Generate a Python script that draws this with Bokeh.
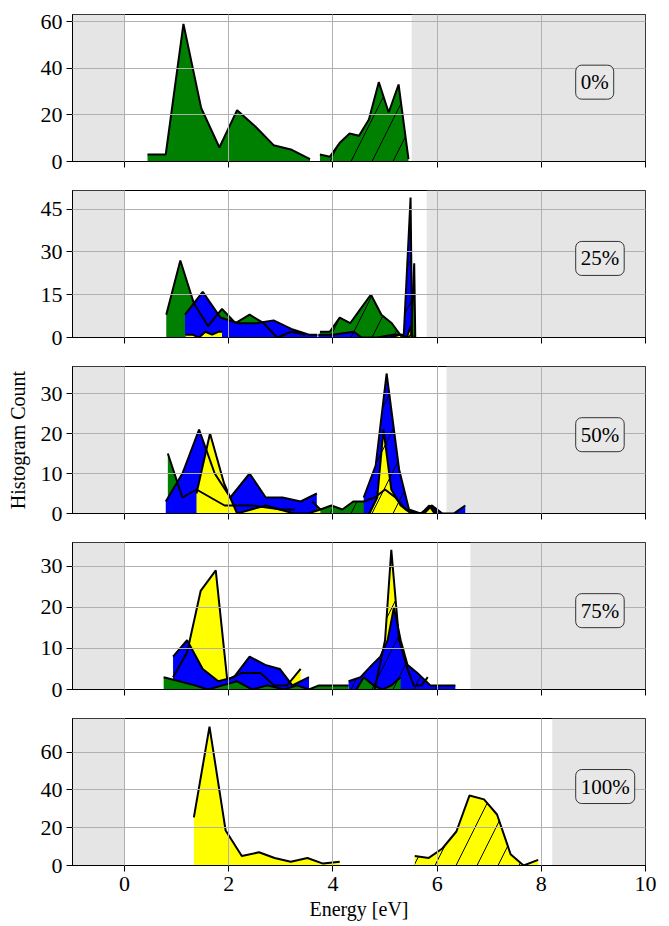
from bokeh.plotting import figure
from bokeh.layouts import column
from bokeh.models import Range1d, FixedTicker, BoxAnnotation, Label
from bokeh.embed import file_html
from bokeh.resources import INLINE

FONT = "Liberation Serif"
GREEN = "#008000"
BLUE = "#0000ff"
YELLOW = "#ffff00"
SHADE = "#e5e5e5"

# ---------------- data ----------------
panel_labels = ["0%", "25%", "50%", "75%", "100%"]
gap_edge = [5.51, 5.80, 6.18, 6.64, 8.21]          # start of right shaded region
y_max = [63.0, 51.5, 36.75, 35.8, 77.8]
y_ticks = [[0, 20, 40, 60], [0, 15, 30, 45], [0, 10, 20, 30], [0, 10, 20, 30], [0, 20, 40, 60]]
label_y = [34.0, 27.7, 19.7, 19.2, 41.8]
x_ticks = [0, 2, 4, 6, 8, 10]

# panel 0%
p0_green_low_e = [0.44, 0.79, 1.13, 1.47, 1.82, 2.16, 2.51, 2.86, 3.21, 3.56]
p0_green_low_n = [3, 3, 59, 23, 6, 22, 15, 7, 5, 1]
p0_green_high_e = [3.75, 3.94, 4.13, 4.32, 4.50, 4.69, 4.88, 5.07, 5.26, 5.45]
p0_green_high_n = [3, 2, 8, 12, 11, 18, 34, 21, 33, 1]

# panel 25%
p1_green_low_e = [0.80, 1.07, 1.33, 1.60, 1.87, 2.13, 2.40, 2.67, 2.93, 3.20, 3.47]
p1_green_low_n = [8, 27, 12, 4, 10, 5, 8, 5, 0, 2, 1]
p1_green_high_e = [3.75, 3.94, 4.13, 4.33, 4.53, 4.73, 4.93, 5.13, 5.33, 5.45, 5.50, 5.56, 5.58]
p1_green_high_n = [2, 2, 7, 5, 10, 15, 8, 5, 0, 0, 1, 26, 0]
p1_blue_low_e = [1.16, 1.50, 1.84, 2.18, 2.52, 2.86, 3.20, 3.54, 3.70]
p1_blue_low_n = [8, 16, 7, 5, 5, 6, 3, 1, 1]
p1_blue_high_e = [3.72, 4.00, 4.40, 4.55, 4.85, 5.15, 5.36, 5.49, 5.52]
p1_blue_high_n = [1, 1, 2, 0, 0, 1, 1, 49, 0]
p1_yellow_low_e = [1.17, 1.30, 1.43, 1.55, 1.68, 1.80, 1.87]
p1_yellow_low_n = [1, 1, 0, 2, 1, 2, 2]
p1_yellow_high_e = [5.10, 5.30, 5.42, 5.49, 5.53]
p1_yellow_high_n = [0, 1, 0, 4, 0]

# panel 50%
p2_green_low_e = [0.83, 1.11, 1.38, 1.65, 1.92, 2.19, 2.46, 2.73, 3.00, 3.27]
p2_green_low_n = [15, 4, 6, 4, 2, 2, 2, 1.5, 1, 1]
p2_green_high_e = [3.60, 3.76, 3.97, 4.18, 4.39, 4.59, 4.80, 5.00, 5.20, 5.40, 5.60, 5.75, 5.90, 6.00]
p2_green_high_n = [3, 1, 2, 1, 3, 3, 4, 6, 4, 1, 0, 0, 2, 0]
p2_blue_low_e = [0.79, 1.11, 1.43, 1.73, 2.03, 2.40, 2.71, 3.03, 3.38, 3.69]
p2_blue_low_n = [3, 10, 21, 10, 4, 10, 4, 4, 3, 5]
p2_blue_high_e = [4.59, 4.82, 5.03, 5.27, 5.46, 5.68, 5.90, 6.10, 6.32, 6.54]
p2_blue_high_n = [4, 12, 35, 11, 1, 0, 2, 0, 0, 2]
p2_yellow_low_e = [1.38, 1.64, 1.91, 2.16, 2.43, 2.71, 2.98, 3.25, 3.52, 3.76]
p2_yellow_low_n = [5, 20, 7.5, 0, 1, 2, 1, 0, 0, 1]
p2_yellow_high_e = [4.70, 4.85, 4.97, 5.12, 5.30, 5.50, 5.70, 5.85, 5.95]
p2_yellow_high_n = [0, 4, 21, 6, 2, 0, 0, 2, 0]

# panel 75%
p3_yellow_low_e = [0.93, 1.20, 1.46, 1.75, 1.97, 2.24, 2.45, 2.61, 2.87, 3.12, 3.38]
p3_yellow_low_n = [3, 9, 24, 29, 2.4, 4, 4, 4, 1, 1, 5]
p3_yellow_high_e = [4.80, 5.00, 5.12, 5.27, 5.43, 5.55, 5.70, 5.82]
p3_yellow_high_n = [0, 12, 34, 12, 5, 1, 1, 3]
p3_blue_low_e = [0.93, 1.20, 1.50, 1.80, 2.10, 2.40, 2.70, 2.98, 3.22, 3.54]
p3_blue_low_n = [8, 12, 5, 2, 3, 8, 6, 5, 1, 3]
p3_blue_high_e = [4.30, 4.53, 4.75, 4.91, 5.05, 5.17, 5.30, 5.43, 5.62, 5.87, 6.10, 6.35]
p3_blue_high_n = [2, 3, 6, 8, 12, 20, 12, 6, 4, 1, 1, 1]
p3_green_low_e = [0.75, 1.05, 1.35, 1.60, 1.88, 2.16, 2.45, 2.74, 3.06, 3.31, 3.54, 3.73, 3.90, 4.10, 4.30]
p3_green_low_n = [3, 2, 1, 0, 1, 2, 0, 1, 0, 1, 0, 1, 1, 1, 1]
p3_green_high_e = [4.45, 4.59, 4.78, 4.95, 5.12, 5.30]
p3_green_high_n = [0, 3, 1, 0, 1, 3]

# panel 100%
p4_yellow_low_e = [1.33, 1.63, 1.94, 2.25, 2.58, 2.88, 3.19, 3.51, 3.81, 4.13]
p4_yellow_low_n = [25.5, 73.5, 18.5, 5, 7, 4, 2, 4, 1, 2]
p4_yellow_high_e = [5.57, 5.84, 6.10, 6.37, 6.62, 6.90, 7.15, 7.41, 7.66, 7.94]
p4_yellow_high_n = [5, 4, 9, 18, 37, 35, 27, 6, 0, 3]

panel_series = [
    [(p0_green_low_e, p0_green_low_n, GREEN, False), (p0_green_high_e, p0_green_high_n, GREEN, True)],
    [(p1_green_low_e, p1_green_low_n, GREEN, False), (p1_green_high_e, p1_green_high_n, GREEN, True),
     (p1_blue_low_e, p1_blue_low_n, BLUE, False), (p1_blue_high_e, p1_blue_high_n, BLUE, True),
     (p1_yellow_low_e, p1_yellow_low_n, YELLOW, False), (p1_yellow_high_e, p1_yellow_high_n, YELLOW, True)],
    [(p2_green_low_e, p2_green_low_n, GREEN, False), (p2_green_high_e, p2_green_high_n, GREEN, True),
     (p2_blue_low_e, p2_blue_low_n, BLUE, False), (p2_blue_high_e, p2_blue_high_n, BLUE, True),
     (p2_yellow_low_e, p2_yellow_low_n, YELLOW, False), (p2_yellow_high_e, p2_yellow_high_n, YELLOW, True)],
    [(p3_yellow_low_e, p3_yellow_low_n, YELLOW, False), (p3_yellow_high_e, p3_yellow_high_n, YELLOW, True),
     (p3_blue_low_e, p3_blue_low_n, BLUE, False), (p3_blue_high_e, p3_blue_high_n, BLUE, True),
     (p3_green_low_e, p3_green_low_n, GREEN, False), (p3_green_high_e, p3_green_high_n, GREEN, True)],
    [(p4_yellow_low_e, p4_yellow_low_n, YELLOW, False), (p4_yellow_high_e, p4_yellow_high_n, YELLOW, True)],
]

# ---------------- figures ----------------
x_range = Range1d(-1, 10)
figs = []
n_panels = len(panel_labels)
for i in range(n_panels):
    last = i == n_panels - 1
    p = figure(width=669, height=222 if last else 176,
               x_range=x_range, y_range=Range1d(0, y_max[i]),
               output_backend="svg", toolbar_location=None,
               min_border_left=72, min_border_right=24,
               min_border_top=14, min_border_bottom=61 if last else 15,
               background_fill_color="white", border_fill_color="white")
    p.outline_line_color = "black"
    p.outline_line_width = 1
    p.outline_line_alpha = 1

    # shaded regions
    p.add_layout(BoxAnnotation(left=-1, right=0, fill_color=SHADE, fill_alpha=1,
                               line_color=None, level="underlay"))
    p.add_layout(BoxAnnotation(left=gap_edge[i], right=10, fill_color=SHADE, fill_alpha=1,
                               line_color=None, level="underlay"))

    # fills
    for e, n, col, hatched in panel_series[i]:
        kw = dict(fill_color=col, fill_alpha=1)
        if hatched:
            kw.update(hatch_pattern="/", hatch_color="black", hatch_scale=42,
                      hatch_weight=1, hatch_alpha=1)
        p.varea(x=e, y1=[0] * len(n), y2=n, **kw)
    # outlines
    for e, n, col, hatched in panel_series[i]:
        p.line(x=e, y=n, line_color="black", line_width=2)

    # axes
    p.xaxis.ticker = FixedTicker(ticks=x_ticks)
    p.yaxis.ticker = FixedTicker(ticks=y_ticks[i])
    for ax in (p.xaxis, p.yaxis):
        ax.axis_line_color = "black"
        ax.major_tick_line_color = "black"
        ax.major_tick_out = 6
        ax.major_tick_in = 0
        ax.minor_tick_line_color = None
        ax.major_label_text_font = FONT
        ax.major_label_text_font_size = "22px"
        ax.major_label_text_color = "black"
        ax.axis_label_text_font = FONT
        ax.axis_label_text_font_size = "20px"
        ax.axis_label_text_font_style = "normal"
        ax.axis_label_text_color = "black"
    p.yaxis.major_label_standoff = 4
    p.xaxis.major_label_standoff = 5
    if not last:
        p.xaxis.major_label_overrides = {t: "" for t in x_ticks}
        p.xaxis.major_label_text_font_size = "0px"
        p.xaxis.major_label_standoff = 0
    else:
        p.xaxis.axis_label = "Energy [eV]"
        p.xaxis.axis_label_standoff = 4
    if i == 2:
        p.yaxis.axis_label = "Histogram Count"
        p.yaxis.axis_label_standoff = 9

    # grid above fills
    p.xgrid.ticker = FixedTicker(ticks=x_ticks)
    p.ygrid.ticker = FixedTicker(ticks=y_ticks[i])
    for g in (p.xgrid, p.ygrid):
        g.grid_line_color = "#b0b0b0"
        g.grid_line_width = 1
        g.level = "annotation"

    p.add_layout(Label(x=8.66, y=label_y[i], text=panel_labels[i],
                       text_font=FONT, text_font_size="21px", text_color="black",
                       text_align="left", text_baseline="middle",
                       padding=5, border_radius=6,
                       background_fill_color="#e8e8e8", background_fill_alpha=1,
                       border_line_color="#333333", border_line_width=1))
    figs.append(p)

layout = column(*figs, spacing=0)
open("out.html", "w").write(file_html(layout, INLINE))
